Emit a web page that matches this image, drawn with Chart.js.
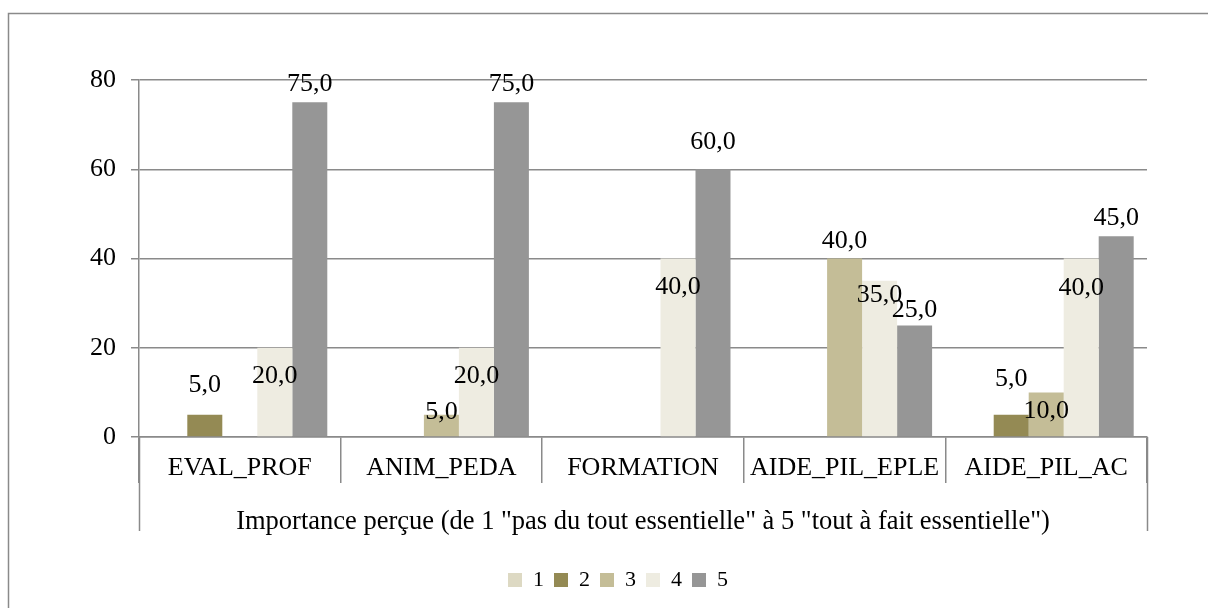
<!DOCTYPE html>
<html><head><meta charset="utf-8">
<script src="https://cdn.jsdelivr.net/npm/chart.js@4/dist/chart.umd.min.js"></script>
<style>html,body{margin:0;padding:0;background:#fff}canvas{display:block}</style>
</head><body>
<canvas id="c" width="1208" height="608"></canvas>
<script>
// ---- data ----
const categories = ['EVAL_PROF', 'ANIM_PEDA', 'FORMATION', 'AIDE_PIL_EPLE', 'AIDE_PIL_AC'];
const seriesNames = ['1', '2', '3', '4', '5'];
const series1 = [0, 0, 0, 0, 0];
const series2 = [5, 0, 0, 0, 5];
const series3 = [0, 5, 0, 40, 10];
const series4 = [20, 20, 40, 35, 40];
const series5 = [75, 75, 60, 25, 45];
const yTickValues = [0, 20, 40, 60, 80];
const axisTitle = 'Importance perçue (de 1 "pas du tout essentielle" à 5 "tout à fait essentielle")';

// ---- styles ----
const colors = ['#DDD9C3', '#948A54', '#C4BD97', '#EEECE1', '#969696'];
const gridColor = '#8a8a8a';
const FONT = "'Liberation Serif', 'Times New Roman', serif";
// label vertical shift (px) relative to the bar top, per series / category
const labelShift = [
  [0, 0, 0, 0, 0],
  [-30, 0, 0, 0, -36],
  [0, -3, 0, -17, 19],
  [28, 28, 29, 14, 30],
  [-18, -18, -27, -15, -18]
];

const allSeries = [series1, series2, series3, series4, series5];

const valueLabels = {
  id: 'valueLabels',
  afterDatasetsDraw(chart) {
    const ctx = chart.ctx;
    ctx.save();
    ctx.font = '26px ' + FONT;
    ctx.fillStyle = '#000';
    ctx.textAlign = 'center';
    ctx.textBaseline = 'middle';
    chart.data.datasets.forEach((ds, i) => {
      const meta = chart.getDatasetMeta(i);
      meta.data.forEach((el, j) => {
        const v = ds.data[j];
        if (!v) return;
        ctx.fillText(v.toFixed(1).replace('.', ','), el.x, el.y + labelShift[i][j]);
      });
    });
    ctx.restore();
  }
};

const frame = {
  id: 'frame',
  afterLayout(chart) {
    const lg = chart.legend;
    if (lg) {
      const d = 618 - (lg.left + lg.right) / 2;
      lg.left += d; lg.right += d;
    }
  },
  afterDraw(chart) {
    const ctx = chart.ctx;
    const xs = chart.scales.x;
    const ca = chart.chartArea;
    ctx.save();
    ctx.strokeStyle = gridColor;
    ctx.lineWidth = 1.5;
    ctx.beginPath();
    ctx.moveTo(8.5, 1210); ctx.lineTo(8.5, 13.5); ctx.lineTo(1210, 13.5);
    ctx.stroke();
    ctx.beginPath();
    [ca.left, ca.right].forEach(x => {
      const px = Math.round(x) + 0.5;
      ctx.moveTo(px, ca.bottom); ctx.lineTo(px, xs.bottom - 28);
    });
    ctx.stroke();
    ctx.restore();
  }
};

new Chart(document.getElementById('c'), {
  type: 'bar',
  data: {
    labels: categories,
    datasets: allSeries.map((d, i) => ({
      label: seriesNames[i],
      data: d,
      backgroundColor: colors[i],
      borderWidth: 0,
      categoryPercentage: 0.868,
      barPercentage: 1
    }))
  },
  options: {
    responsive: false,
    animation: false,
    layout: { padding: { left: 0, right: 61, top: 80, bottom: 7 } },
    plugins: {
      tooltip: { enabled: false },
      legend: {
        position: 'bottom',
        labels: {
          boxWidth: 14, boxHeight: 14, padding: 10,
          color: '#000',
          font: { family: FONT, size: 22 }
        }
      }
    },
    scales: {
      y: {
        min: 0, max: 80,
        afterFit(s) { s.width = 139; },
        afterBuildTicks(s) { s.ticks = yTickValues.map(v => ({ value: v })); },
        ticks: { color: '#000', font: { family: FONT, size: 26 }, padding: 15 },
        grid: { color: gridColor, lineWidth: 1.5, tickLength: 8 },
        border: { display: true, color: gridColor, width: 1.5 }
      },
      x: {
        offset: true,
        afterFit(s) { s.height = 122; },
        ticks: { color: '#000', font: { family: FONT, size: 26 }, padding: -30, maxRotation: 0, autoSkip: false },
        grid: { offset: true, drawOnChartArea: false, drawTicks: true, tickLength: 46, color: gridColor, lineWidth: 1.5 },
        border: { display: true, color: gridColor, width: 1.5 },
        title: {
          display: true, text: axisTitle, color: '#000',
          font: { family: FONT, size: 26.5 }, padding: { top: 0, bottom: 21 }
        }
      }
    }
  },
  plugins: [valueLabels, frame]
});
</script>
</body></html>
